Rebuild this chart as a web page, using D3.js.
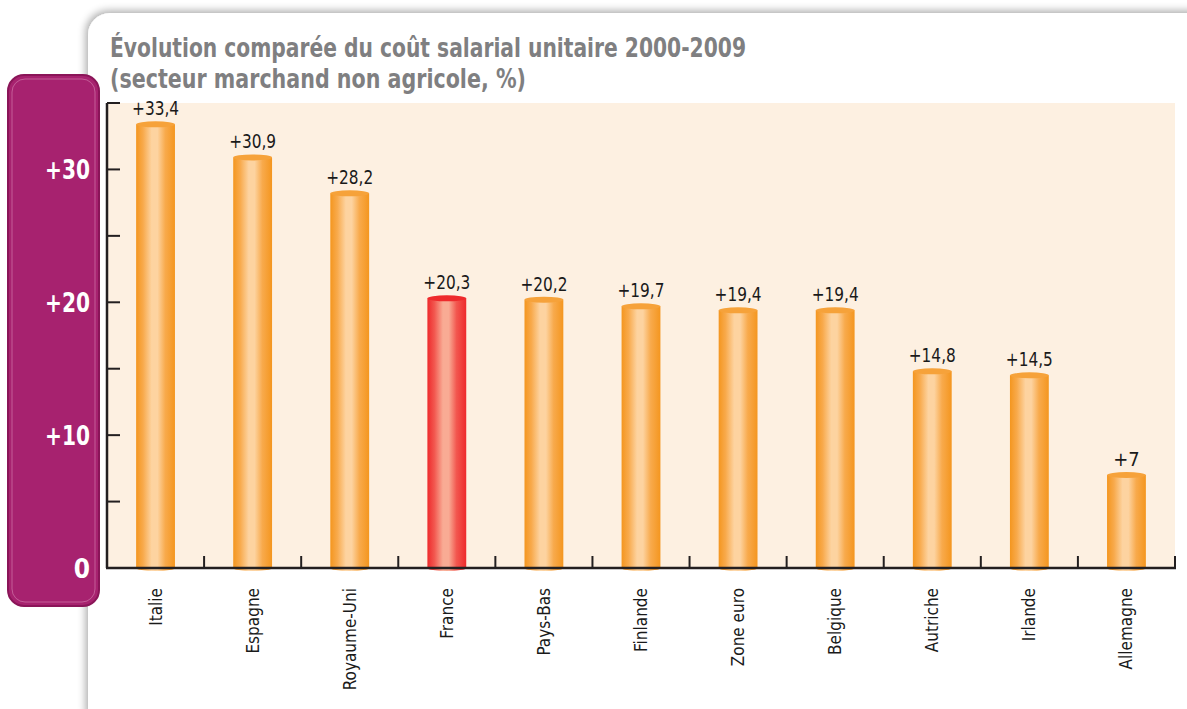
<!DOCTYPE html>
<html>
<head>
<meta charset="utf-8">
<script src="https://cdn.jsdelivr.net/npm/d3@7"></script>
<style>
  html, body { margin: 0; padding: 0; background: #fff; }
  svg { display: block; }
</style>
</head>
<body>
<svg id="chart" width="1187" height="709"></svg>
<script>
const countries = ["Italie", "Espagne", "Royaume-Uni", "France", "Pays-Bas", "Finlande", "Zone euro", "Belgique", "Autriche", "Irlande", "Allemagne"];
const values = [33.4, 30.9, 28.2, 20.3, 20.2, 19.7, 19.4, 19.4, 14.8, 14.5, 7];
const highlight = ["France"];
const majorTicks = [0, 10, 20, 30];
const minorTicks = [5, 15, 25, 35];

const width = 1187, height = 709;
const fontFamily = "'Liberation Sans Narrow', 'DejaVu Sans Condensed', 'Roboto Condensed', sans-serif";

const svg = d3.select("#chart");
const defs = svg.append("defs");

// card shadow
const shadow = defs.append("filter").attr("id", "shadow")
  .attr("x", "-5%").attr("y", "-5%").attr("width", "110%").attr("height", "110%");
shadow.append("feGaussianBlur").attr("in", "SourceAlpha").attr("stdDeviation", 4);
shadow.append("feOffset").attr("dx", -2).attr("dy", -2).attr("result", "b");
shadow.append("feComponentTransfer").append("feFuncA").attr("type", "linear").attr("slope", 0.35);
const merge = shadow.append("feMerge");
merge.append("feMergeNode");
merge.append("feMergeNode").attr("in", "SourceGraphic");

function barGradient(id, edge, mid, light) {
  const g = defs.append("linearGradient").attr("id", id)
    .attr("x1", "0%").attr("x2", "100%").attr("y1", "0%").attr("y2", "0%");
  g.append("stop").attr("offset", "0%").attr("stop-color", edge);
  g.append("stop").attr("offset", "18%").attr("stop-color", mid);
  g.append("stop").attr("offset", "40%").attr("stop-color", light);
  g.append("stop").attr("offset", "55%").attr("stop-color", light);
  g.append("stop").attr("offset", "75%").attr("stop-color", mid);
  g.append("stop").attr("offset", "100%").attr("stop-color", edge);
}
barGradient("gOrange", "#f4961f", "#f8aa4c", "#fdd3a0");
barGradient("gRed", "#ee2a2c", "#f2574f", "#f9ab94");

// white card
svg.append("rect")
  .attr("x", 88).attr("y", 13).attr("width", 1130).attr("height", 720)
  .attr("rx", 22).attr("fill", "#fff")
  .attr("filter", "url(#shadow)");

// title
const title = svg.append("g").attr("font-family", fontFamily)
  .attr("font-weight", "bold").attr("fill", "#7f7f81").attr("font-size", 27);
title.append("text").attr("x", 110).attr("y", 57)
  .attr("textLength", 636).attr("lengthAdjust", "spacingAndGlyphs")
  .text("Évolution comparée du coût salarial unitaire 2000-2009");
title.append("text").attr("x", 110).attr("y", 88)
  .attr("textLength", 416).attr("lengthAdjust", "spacingAndGlyphs")
  .text("(secteur marchand non agricole, %)");

const margin = { left: 107, right: 1175, top: 103, bottom: 568 };

const x = d3.scaleBand().domain(countries)
  .range([margin.left, margin.right]).paddingInner(0.6).paddingOuter(0.3);
const xb = d3.scaleBand().domain(countries).range([margin.left, margin.right]);
const y = d3.scaleLinear().domain([0, 35]).range([margin.bottom, margin.top]);

// plot background
svg.append("rect")
  .attr("x", margin.left).attr("y", y(35))
  .attr("width", margin.right - margin.left).attr("height", y(0) - y(35))
  .attr("fill", "#fdf0e1");

// purple axis box
svg.append("rect")
  .attr("x", 8).attr("y", 75).attr("width", 91).attr("height", 531)
  .attr("rx", 16).attr("fill", "#a7226f").attr("stroke", "#8a1558").attr("stroke-width", 2);
svg.append("rect")
  .attr("x", 12).attr("y", 79).attr("width", 83).attr("height", 523)
  .attr("rx", 13).attr("fill", "none").attr("stroke", "#c45d98").attr("stroke-width", 1);

svg.append("g").selectAll("text").data(majorTicks).join("text")
  .attr("x", 90).attr("y", d => y(d) + 10)
  .attr("text-anchor", "end")
  .attr("font-family", fontFamily).attr("font-weight", "bold")
  .attr("font-size", 26).attr("fill", "#fff")
  .attr("textLength", d => d === 0 ? null : 45).attr("lengthAdjust", "spacingAndGlyphs")
  .text(d => d === 0 ? "0" : "+" + d);

// bars (cylinders)
const bars = svg.append("g").selectAll("g").data(countries).join("g");
const capRy = 3;
bars.append("path")
  .attr("d", (d, i) => {
    const x0 = x(d), w = x.bandwidth(), top = y(values[i]), bot = y(0);
    return `M${x0},${top} L${x0},${bot} A${w / 2},${capRy} 0 0 0 ${x0 + w},${bot} L${x0 + w},${top} Z`;
  })
  .attr("fill", d => highlight.includes(d) ? "url(#gRed)" : "url(#gOrange)");
bars.append("ellipse")
  .attr("cx", d => x(d) + x.bandwidth() / 2)
  .attr("cy", (d, i) => y(values[i]))
  .attr("rx", x.bandwidth() / 2).attr("ry", capRy)
  .attr("fill", d => highlight.includes(d) ? "#ee2a2c" : "#f6a23a");

// value labels
bars.append("text")
  .attr("x", d => x(d) + x.bandwidth() / 2)
  .attr("y", (d, i) => y(values[i]) - 9)
  .attr("text-anchor", "middle")
  .attr("font-family", fontFamily).attr("font-size", 20).attr("fill", "#1a1a1a")
  .attr("textLength", (d, i) => String(values[i]).length > 1 ? 47 : null)
  .attr("lengthAdjust", "spacingAndGlyphs")
  .text((d, i) => "+" + String(values[i]).replace(".", ","));

// axes
const axisColor = "#231f20";
svg.append("line")
  .attr("x1", margin.left).attr("x2", margin.left)
  .attr("y1", y(35)).attr("y2", y(0))
  .attr("stroke", axisColor).attr("stroke-width", 2.5);
svg.append("g").selectAll("line").data(majorTicks.concat(minorTicks).filter(d => d > 0)).join("line")
  .attr("x1", margin.left).attr("x2", margin.left + 13)
  .attr("y1", d => y(d)).attr("y2", d => y(d))
  .attr("stroke", axisColor).attr("stroke-width", 2);

svg.append("line")
  .attr("x1", margin.left - 1).attr("x2", margin.right + 1)
  .attr("y1", y(0)).attr("y2", y(0))
  .attr("stroke", axisColor).attr("stroke-width", 2.5);
svg.append("g").selectAll("line").data(countries).join("line")
  .attr("x1", d => xb(d) + xb.bandwidth()).attr("x2", d => xb(d) + xb.bandwidth())
  .attr("y1", y(0)).attr("y2", y(0) - 12)
  .attr("stroke", axisColor).attr("stroke-width", 2);

// category labels
svg.append("g").selectAll("text").data(countries).join("text")
  .attr("transform", d => `translate(${x(d) + x.bandwidth() / 2 + 6},588) rotate(-90)`)
  .attr("text-anchor", "end")
  .attr("font-family", fontFamily).attr("font-size", 17).attr("fill", "#1a1a1a")
  .text(d => d);
</script>
</body>
</html>
